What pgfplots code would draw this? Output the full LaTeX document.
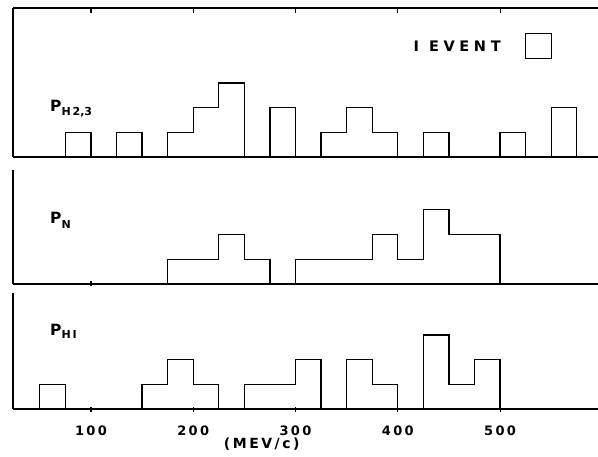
\documentclass[border=0pt]{standalone}
\usepackage{pgfplots}
\pgfplotsset{compat=1.18}
\usepackage{fontspec}
\setmainfont{DejaVu Sans}
\newfontfamily\lbl{DejaVu Sans}[LetterSpace=18]
\newfontfamily\evt{DejaVu Sans}[LetterSpace=32]

\pgfplotsset{
  panel/.style={
    scale only axis, width=585pt, xmin=23.8, xmax=595.7, ymin=0,
    axis line style={line width=1.2pt, -},
    every tick/.style={line width=1.2pt, black},
    tick align=inside, major tick length=5pt,
    ytick=\empty, clip=false, anchor=south west
  },
  hist/.style={black, line width=1.3pt, line join=miter, mark=none}
}

\begin{document}
\begin{tikzpicture}
\useasboundingbox (0pt,0pt) rectangle (598pt,-457pt);

% P_H2,3
\begin{axis}[panel, height=149pt, ymax=6.03, at={(13pt,-157pt)},
  axis x line=box, axis y line=left, axis line style={-},
  xtick={100,200,300,400,500}, xticklabels={}, xtick pos=right]
\addplot[hist] coordinates {
  (75,0) (75,1) (100,1) (100,0) (125,0) (125,1) (150,1) (150,0)
  (175,0) (175,1) (200,1) (200,2) (225,2) (225,3) (250,3) (250,0)
  (275,0) (275,2) (300,2) (300,0)
  (325,0) (325,1) (350,1) (350,2) (375,2) (375,1) (400,1) (400,0)
  (425,0) (425,1) (450,1) (450,0)
  (500,0) (500,1) (525,1) (525,0)
  (550,0) (550,2) (575,2) (575,0)
};
\addplot[black, line width=1.2pt, line cap=rect, mark=none] coordinates {
  (525,4) (550,4) (550,5) (525,5) (525,4)
};
\node at (axis cs:458,4.47) {\evt\bfseries\fontsize{14.5}{15}\selectfont I\hspace{10pt}EVENT};
\node[anchor=west, inner sep=0pt] at (axis cs:60,1.95) {\bfseries\fontsize{15.5}{16}\selectfont P\raisebox{-3.5pt}{\fontsize{11}{11}\selectfont H\,2,3}};
\end{axis}

% P_N
\begin{axis}[panel, height=114pt, ymax=4.6, at={(13pt,-284pt)},
  axis x line=bottom, axis y line=left, axis line style={-},
  xtick={100}, xticklabels={}]
\addplot[hist] coordinates {
  (175,0) (175,1) (225,1) (225,2) (250,2) (250,1) (275,1) (275,0)
  (300,0) (300,1) (375,1) (375,2) (400,2) (400,1) (425,1) (425,3)
  (450,3) (450,2) (500,2) (500,0)
};
\node[anchor=west, inner sep=0pt] at (axis cs:60,2.55) {\bfseries\fontsize{15.5}{16}\selectfont P\raisebox{-5pt}{\fontsize{11}{11}\selectfont N}};
\end{axis}

% P_H1
\begin{axis}[panel, height=116pt, ymax=4.7, at={(13pt,-409pt)},
  axis x line=bottom, axis y line=left, axis line style={-},
  xtick={100,200,300,400,500},
  xticklabels={100,200,300,400,500},
  xticklabel style={anchor=base, yshift=-23.5pt, font=\lbl\bfseries\fontsize{13}{13}\selectfont}]
\addplot[hist] coordinates {
  (50,0) (50,1) (75,1) (75,0)
  (150,0) (150,1) (175,1) (175,2) (200,2) (200,1) (225,1) (225,0)
  (250,0) (250,1) (300,1) (300,2) (325,2) (325,0)
  (350,0) (350,2) (375,2) (375,1) (400,1) (400,0)
  (425,0) (425,3) (450,3) (450,1) (475,1) (475,2) (500,2) (500,0)
};
\draw[line width=1pt] (rel axis cs:1,0) -- (rel axis cs:1,1);
\node[anchor=west, inner sep=0pt] at (axis cs:60,3.15) {\bfseries\fontsize{15.5}{16}\selectfont P\raisebox{-3.5pt}{\fontsize{11}{11}\selectfont H\,I}};
\node at (axis cs:267,0) [yshift=-35pt] {\lbl\bfseries\fontsize{14}{14}\selectfont (MEV/c)};
\end{axis}
\end{tikzpicture}
\end{document}
